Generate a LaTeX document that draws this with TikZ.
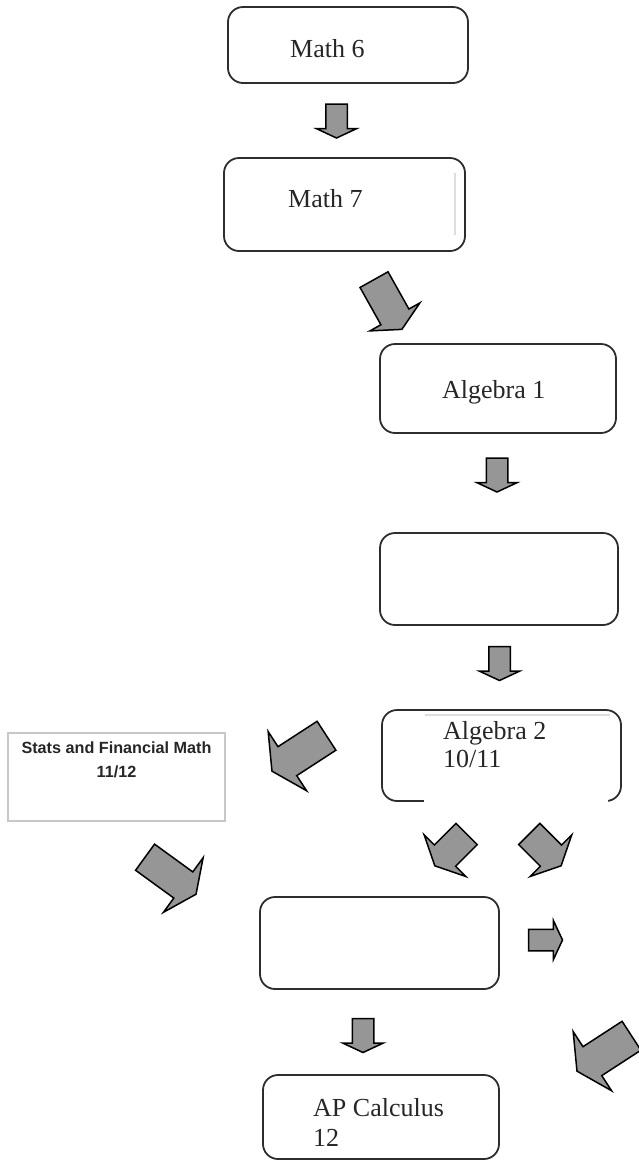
\documentclass[tikz,border=0pt]{standalone}
\usepackage{fontspec}
\setmainfont{Liberation Serif}
\newfontfamily\arialfont{Liberation Sans}
\usetikzlibrary{shapes.arrows}

\definecolor{arrowgray}{RGB}{150,150,150}
\definecolor{edgegray}{RGB}{45,45,45}
\definecolor{framegray}{RGB}{200,200,200}
\definecolor{ghostgray}{RGB}{222,222,222}

\begin{document}
\begin{tikzpicture}[
    x=1pt, y=-1pt,
    course/.style 2 args={draw=edgegray, line width=1.8pt, rounded corners=15pt, inner sep=0pt, minimum width=#1, minimum height=#2},
    coursetext/.style={anchor=base west, inner sep=0pt, text=black!85, font=\fontsize{26}{30}\selectfont},
    statsbox/.style={draw=framegray, line width=2pt, inner sep=0pt, minimum width=217pt, minimum height=88pt},
    statstext/.style={anchor=base, inner sep=0pt, text=black!85, font=\arialfont\bfseries\fontsize{16.2}{20}\selectfont},
    blockarrow/.style n args={4}{single arrow, draw=black, fill=arrowgray, line width=1.5pt, inner xsep=0pt, inner ysep=#2, outer sep=0pt, single arrow tip angle=128, minimum height=#1, minimum width=0pt, single arrow head extend=#3, rotate=#4},
    downarrow/.style={blockarrow={34pt}{10pt}{9.5pt}{-90}, single arrow tip angle=130}
]
\useasboundingbox (0,0) rectangle (639,1160);
\clip (0,0) rectangle (639,1160);

% Courses
\node[course={240pt}{76pt}] (math6) at (348,45) {};
\node[coursetext] (math6t) at (290,57) {Math 6};

\node[course={241pt}{93pt}] (math7) at (344.5,204.5) {};
\draw[ghostgray, line width=1.2pt] (455,173) -- (455,235);
\node[coursetext] (math7t) at (288,207.3) {Math 7};

\node[course={236pt}{89pt}] (alg1) at (498,388.5) {};
\node[coursetext] (alg1t) at (442,398.3) {Algebra 1};

\node[course={238pt}{92pt}] (blank1) at (499,579) {};

\node[course={239pt}{91pt}] (alg2) at (501.5,755.5) {};
\fill[white] (424,715) rectangle (608,806);
\draw[ghostgray, line width=1.2pt] (425,715) -- (610,715);
\node[coursetext] (alg2t) at (443,739) {Algebra 2};
\node[coursetext] (alg2y) at (443,767) {10/11};

\node[statsbox] (stats) at (116.5,777) {};
\node[statstext] (statst) at (116.5,753.3) {Stats and Financial Math};
\node[statstext] (statsy) at (116.5,777.3) {11/12};

\node[course={239pt}{92pt}] (blank2) at (379.5,943) {};

\node[course={236pt}{84pt}] (apcalc) at (381,1117) {};
\node[coursetext] (apcalct) at (313,1116.7) {AP Calculus};
\node[coursetext] (apcalcy) at (313,1146.7) {12};

% Arrows
\node[downarrow] (arr1) at (336.5,118.5) {};
\node[downarrow] (arr2) at (497,472.5) {};
\node[downarrow] (arr3) at (499.5,661) {};
\node[downarrow] (arr4) at (363,1033) {};
\node[blockarrow={34pt}{10pt}{9pt}{0}, single arrow tip angle=130] (arr5) at (543,940) {};
\node[blockarrow={57pt}{15.3pt}{12.6pt}{-60.75}, single arrow tip angle=127] (arr6) at (386,301) {};
\node[blockarrow={65pt}{16.5pt}{18pt}{-147}, single arrow tip angle=125] (arr7) at (303,751) {};
\node[blockarrow={63pt}{15.4pt}{17.6pt}{-36}, single arrow tip angle=130] (arr8) at (167.5,873.5) {};
\node[blockarrow={45pt}{14.25pt}{14.5pt}{-135}] (arr9) at (453.3,847.3) {};
\node[blockarrow={45pt}{14.25pt}{14.5pt}{-45}] (arr10) at (542.6,847.3) {};
\node[blockarrow={65pt}{16.5pt}{18pt}{-147}, single arrow tip angle=125] (arr11) at (608,1051) {};

\end{tikzpicture}
\end{document}
